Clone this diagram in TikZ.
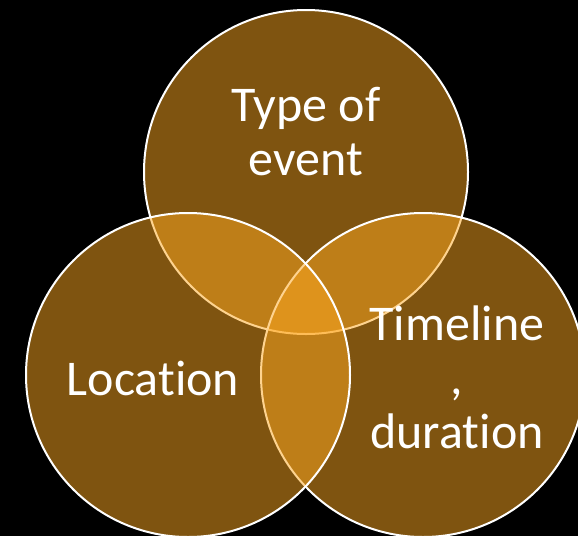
\documentclass[tikz,border=0pt]{standalone}
\usepackage{fontspec}
\setmainfont{Carlito}[RawFeature=-liga]
\usetikzlibrary{positioning}

\definecolor{amber}{HTML}{FEA820}

\begin{document}
\begin{tikzpicture}[
    x=1pt, y=-1pt,
    ring/.style={circle, draw=white, line width=2pt, fill=amber, fill opacity=0.5, draw opacity=1, minimum size=324pt, inner sep=0pt},
    label/.style={text=white, align=center, font=\fontsize{50}{54}\selectfont, text opacity=1}
]
    % Background
    \fill[black] (0,0) rectangle (578,536);
    \useasboundingbox (0,0) rectangle (578,536);

    % Circles
    \node[ring] (top) at (306,172) {};
    \node[ring] (right) at (423,375) {};
    \node[ring] (left) at (188,375) {};

    % Labels
    \node[label] (event) at (306,132) {Type of\\event};
    \node[label] (location) at (153,378) {Location};
    \node[label] (timeline) at (457,377) {Timeline\\,\\duration};
\end{tikzpicture}
\end{document}
